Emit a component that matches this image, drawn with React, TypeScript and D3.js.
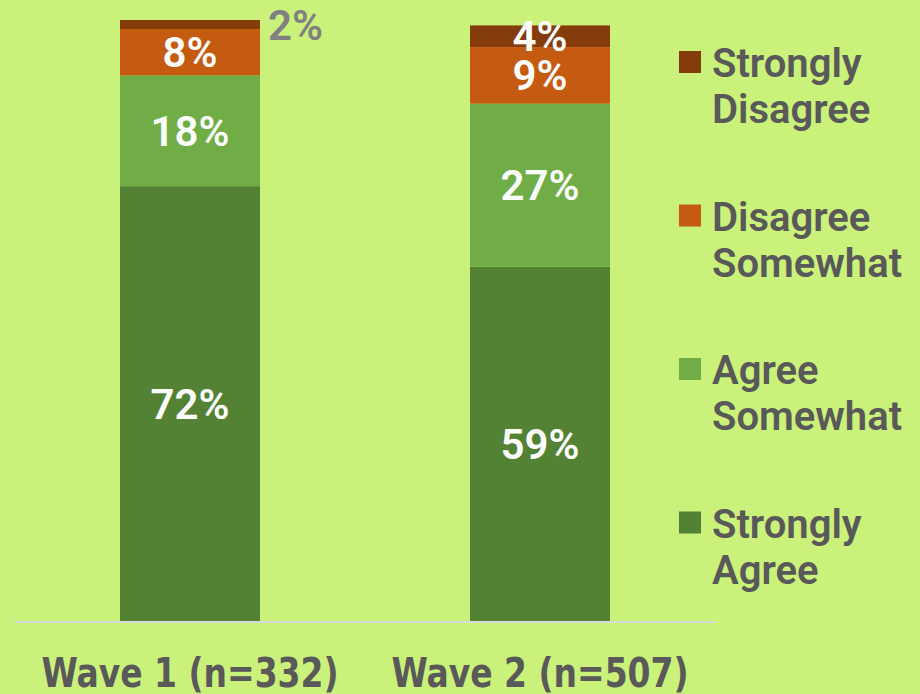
import React from "react";
import * as d3 from "d3";

const waves = ["Wave 1", "Wave 2"];
const waveNs = ["(n=332)", "(n=507)"];
const seriesNames = ["Strongly Agree", "Agree Somewhat", "Disagree Somewhat", "Strongly Disagree"];
const legendLines = [["Strongly", "Agree"], ["Agree", "Somewhat"], ["Disagree", "Somewhat"], ["Strongly", "Disagree"]];
const stronglyAgree = [72.4, 59.0];
const agreeSomewhat = [18.4, 27.1];
const disagreeSomewhat = [7.7, 9.4];
const stronglyDisagree = [1.5, 3.6];
const colors = ["#548235", "#70ad47", "#c55a11", "#843c0c"];

const W = 920;
const H = 694;
const BG = "#caf17a";
const TEXT = "#595959";

export default function App() {
  const rows = waves.map((w, i) => ({
    wave: w,
    "Strongly Agree": stronglyAgree[i],
    "Agree Somewhat": agreeSomewhat[i],
    "Disagree Somewhat": disagreeSomewhat[i],
    "Strongly Disagree": stronglyDisagree[i],
  }));
  const stack = d3.stack<any>().keys(seriesNames)(rows);

  const x = d3.scaleBand<string>().domain(waves).range([15, 715]).paddingInner(0.6).paddingOuter(0.3);
  const y = d3.scaleLinear().domain([0, 100]).range([622, 20]);

  const legendX = 679;
  const legendTop = 51;
  const legendStep = 153.5;
  const legendOrder = [3, 2, 1, 0];
  const font = "Roboto, 'Liberation Sans', Arial, sans-serif";

  return (
    <svg width={W} height={H} style={{ position: "fixed", left: 0, top: 0, background: BG }}>
      <rect x={0} y={0} width={W} height={H} fill={BG} />
      {stack.map((s, si) =>
        s.map((d, i) => {
          const wave = waves[i];
          const x0 = x(wave)!;
          const y0 = y(d[1]);
          const y1 = y(d[0]);
          return (
            <rect key={`${si}-${i}`} x={x0} y={y0} width={x.bandwidth()} height={y1 - y0} fill={colors[si]} />
          );
        })
      )}
      <line x1={15} x2={715} y1={y(0)} y2={y(0)} stroke="#d9d9d9" strokeWidth={2} />
      {stack.map((s, si) =>
        s.map((d, i) => {
          const wave = waves[i];
          const v = d[1] - d[0];
          const label = `${Math.round(v)}%`;
          const cx = x(wave)! + x.bandwidth() / 2;
          const cy = (y(d[0]) + y(d[1])) / 2;
          if (v < 2) {
            return (
              <text key={`l${si}-${i}`} x={x(wave)! + x.bandwidth() + 8} y={y(d[1]) + 20}
                fontFamily={font} fontWeight={600} fontSize={42}
                fill="#808080">{label}</text>
            );
          }
          return (
            <text key={`l${si}-${i}`} x={cx} y={cy + 15} textAnchor="middle"
              fontFamily={font} fontWeight={600} fontSize={42}
              fill="#ffffff">{label}</text>
          );
        })
      )}
      {waves.map((w, i) => (
        <text key={w} x={x(w)! + x.bandwidth() / 2} y={687} textAnchor="middle"
          fontFamily="'Liberation Sans Narrow', 'DejaVu Sans Condensed', 'Liberation Sans', Arial, sans-serif"
          fontSize={40} fill={TEXT} fontWeight={700}
          textLength={297} lengthAdjust="spacingAndGlyphs">
          {w + " " + waveNs[i]}
        </text>
      ))}
      {legendOrder.map((si, k) => {
        const top = legendTop + k * legendStep;
        return (
          <g key={seriesNames[si]}>
            <rect x={legendX} y={top} width={22} height={22} fill={colors[si]} />
            {legendLines[si].map((ln, j) => (
              <text key={j} x={712} y={top + 26 + j * 46}
                fontFamily={font} fontWeight={600} fontSize={40}
                fill={TEXT}>{ln}</text>
            ))}
          </g>
        );
      })}
    </svg>
  );
}
